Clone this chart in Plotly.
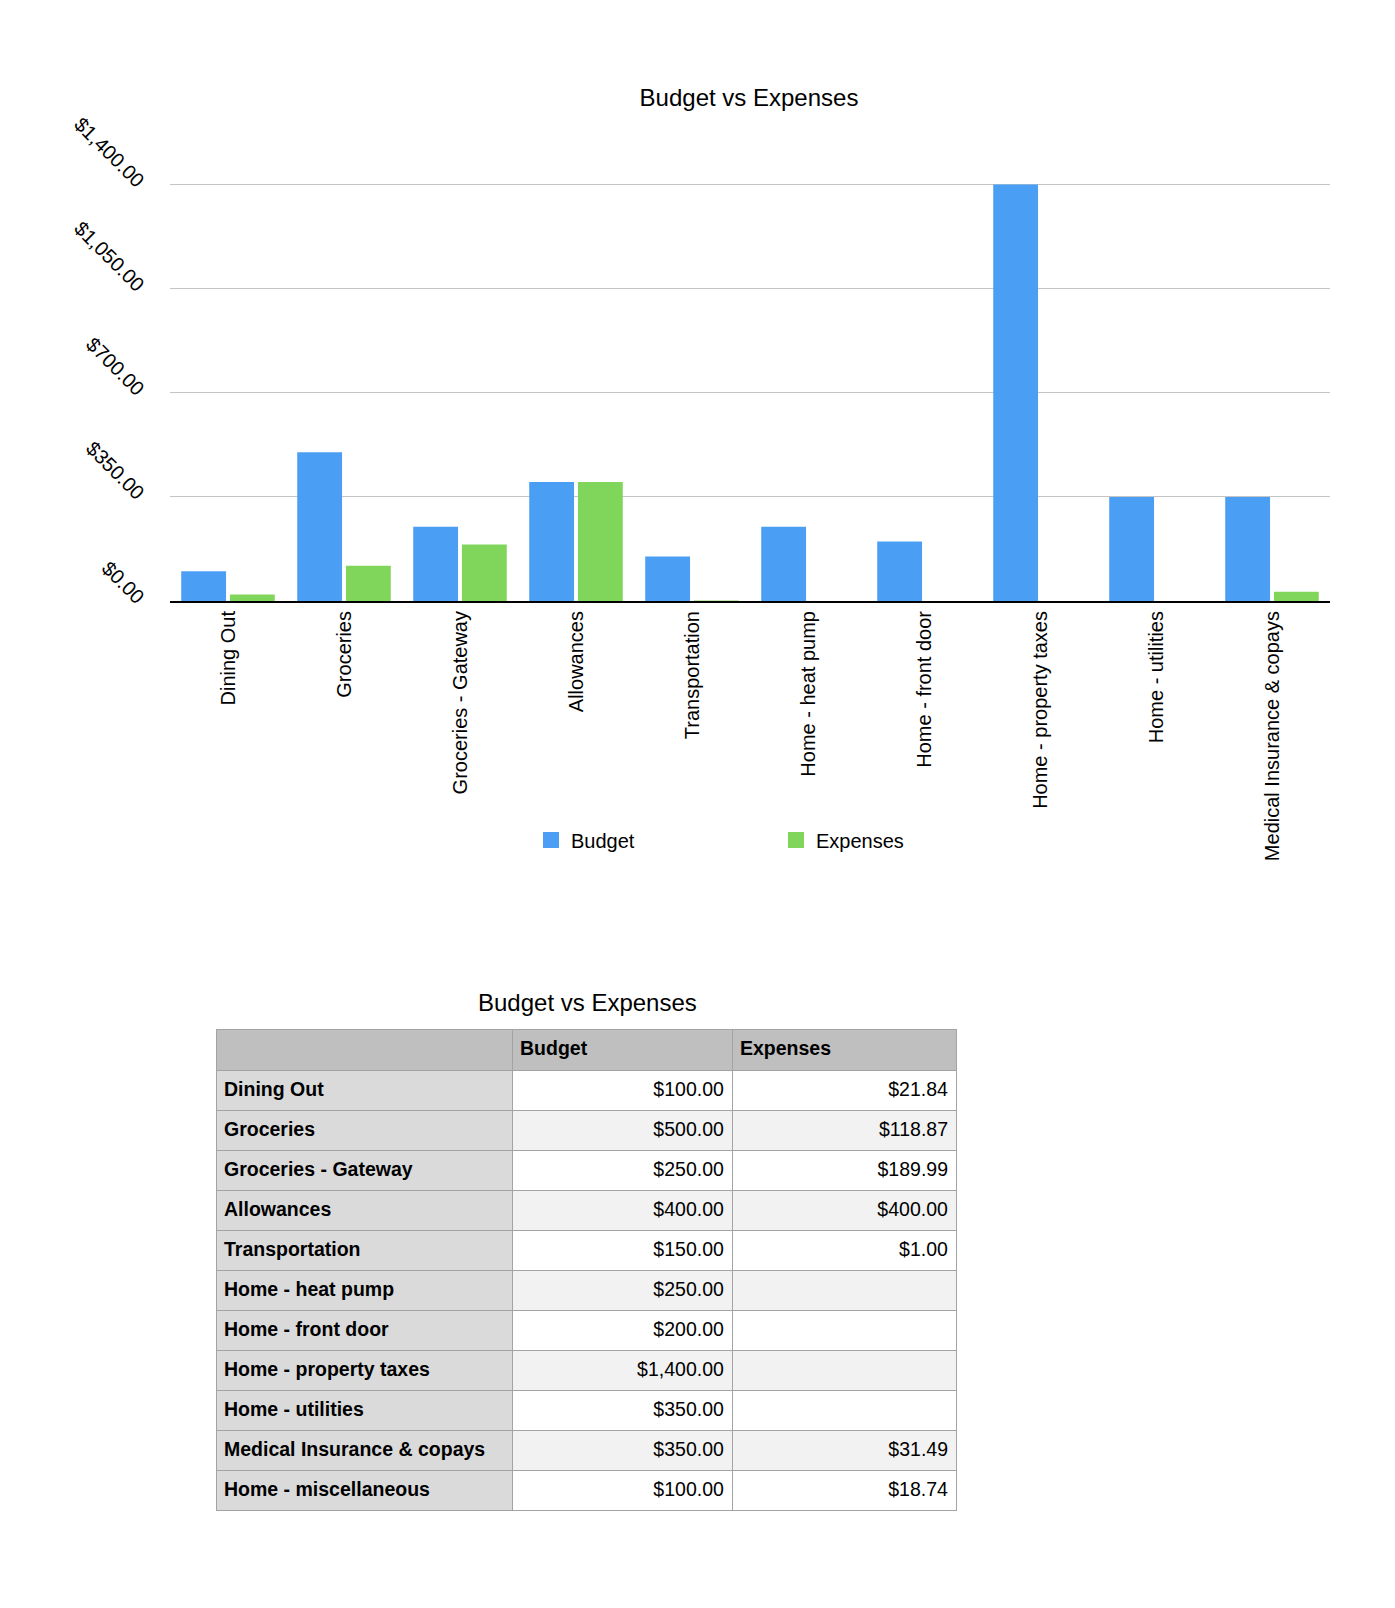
import plotly.graph_objects as go

# page has an 8px body margin; size the figure so it fits the window exactly
OFF = 8
W, H = 1395 - OFF, 1608 - OFF

categories = ["Dining Out", "Groceries", "Groceries - Gateway", "Allowances", "Transportation",
              "Home - heat pump", "Home - front door", "Home - property taxes", "Home - utilities",
              "Medical Insurance & copays", "Home - miscellaneous"]
budget = [100.00, 500.00, 250.00, 400.00, 150.00, 250.00, 200.00, 1400.00, 350.00, 350.00, 100.00]
expenses = [21.84, 118.87, 189.99, 400.00, 1.00, None, None, None, None, 31.49, 18.74]

chart_count = 10  # the chart shows the first ten rows of the table
y_tickvals = [0, 350, 700, 1050, 1400]
y_ticktext = ["$0.00", "$350.00", "$700.00", "$1,050.00", "$1,400.00"]

BLUE = "#4a9ff5"
GREEN = "#80d65a"
FONT = "Liberation Sans, Arial, Helvetica, sans-serif"


def px_x(x):
    return (x - OFF) / W


def px_y(y):
    return 1 - (y - OFF) / H


def money(v):
    return "<span> </span>" if v is None else "<span>${:,.2f}</span>".format(v)


fig = go.Figure()
fig.add_trace(go.Bar(name="Budget", x=categories[:chart_count], y=budget[:chart_count],
                     marker=dict(color=BLUE, line=dict(width=0)), showlegend=False))
fig.add_trace(go.Bar(name="Expenses", x=categories[:chart_count], y=expenses[:chart_count],
                     marker=dict(color=GREEN, line=dict(width=0)), showlegend=False))
# legend-only entries with larger square swatches
for name, col in (("Budget", BLUE), ("Expenses", GREEN)):
    fig.add_trace(go.Scatter(name=name, x=[None], y=[None], mode="markers",
                             marker=dict(symbol="square", size=19, color=col, line=dict(width=0)),
                             showlegend=True))

row_fill = ["#ffffff" if i % 2 == 0 else "#f2f2f2" for i in range(len(categories))]
fig.add_trace(go.Table(
    domain=dict(x=[px_x(216), px_x(956)], y=[px_y(1560), px_y(1029)]),
    columnwidth=[296, 220, 224],
    header=dict(
        values=["<b> </b>", "<b>Budget</b>", "<b>Expenses</b>"],
        fill_color="#bebfbe",
        line=dict(color="#a3a3a3", width=1),
        align="left",
        height=41,
        font=dict(family=FONT, size=19.5, color="black"),
    ),
    cells=dict(
        values=[["<b>%s</b>" % c.replace("&", "&amp;") for c in categories],
                [money(v) for v in budget],
                [money(v) for v in expenses]],
        fill_color=[["#dadada"] * len(categories), row_fill, row_fill],
        line=dict(color="#a3a3a3", width=1),
        align=["left", "right", "right"],
        height=40,
        font=dict(family=FONT, size=19.5, color="black"),
    ),
))

fig.update_layout(
    template="none",
    width=W, height=H,
    margin=dict(l=0, r=0, t=0, b=0, pad=0, autoexpand=False),
    paper_bgcolor="white", plot_bgcolor="white",
    font=dict(family=FONT, size=20, color="black"),
    title=dict(text="Budget vs Expenses", x=px_x(749), y=px_y(98), xanchor="center", yanchor="middle",
               xref="container", yref="container",
               font=dict(size=24, family=FONT, color="black")),
    barmode="group", bargap=0.16, bargroupgap=0.08,
    showlegend=True,
    legend=dict(orientation="h", x=px_x(531), y=px_y(840), xanchor="left", yanchor="middle",
                entrywidth=200, entrywidthmode="pixels", font=dict(size=20),
                itemsizing="trace", bgcolor="rgba(0,0,0,0)", borderwidth=0),
    xaxis=dict(domain=[px_x(170), px_x(1330)], tickangle=-90, showgrid=False, automargin=False,
               showline=True, linecolor="black", linewidth=2, ticks="", zeroline=False,
               tickfont=dict(size=20)),
    yaxis=dict(domain=[px_y(601), px_y(182.5)], range=[0, 1407], tickvals=y_tickvals, automargin=False,
               ticktext=y_ticktext, tickangle=45, showgrid=True, gridcolor="#c4c4c4",
               gridwidth=1, zeroline=False, showline=False, ticks="",
               tickfont=dict(size=20), ticklabelstandoff=26),
    annotations=[dict(text="Budget vs Expenses", x=px_x(587), y=px_y(1002), xref="paper", yref="paper",
                      xanchor="center", yanchor="middle", showarrow=False,
                      font=dict(size=24, family=FONT, color="black"))],
)

fig.write_html("out.html")
